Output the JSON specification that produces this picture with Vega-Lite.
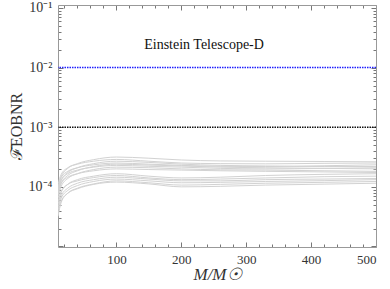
{
  "$schema": "https://vega.github.io/schema/vega-lite/v6.json",
  "width": 318,
  "height": 242,
  "autosize": "none",
  "padding": {"left": 58, "top": 5, "right": 14, "bottom": 42},
  "config": {"view": {"stroke": null}, "font": "Times New Roman"},
  "layer": [
    {
      "data": {"values": [
        {"c":1,"x":10,"y":0.89e-4},{"c":1,"x":15,"y":1.48e-4},{"c":1,"x":25,"y":2.04e-4},{"c":1,"x":40,"y":2.45e-4},{"c":1,"x":65,"y":2.86e-4},{"c":1,"x":100,"y":3.16e-4},{"c":1,"x":150,"y":3.02e-4},{"c":1,"x":200,"y":2.82e-4},{"c":1,"x":260,"y":2.72e-4},{"c":1,"x":330,"y":2.69e-4},{"c":1,"x":420,"y":2.66e-4},{"c":1,"x":500,"y":2.63e-4},
        {"c":2,"x":10,"y":1.12e-4},{"c":2,"x":15,"y":1.62e-4},{"c":2,"x":25,"y":2.09e-4},{"c":2,"x":40,"y":2.40e-4},{"c":2,"x":65,"y":2.69e-4},{"c":2,"x":100,"y":2.88e-4},{"c":2,"x":150,"y":2.69e-4},{"c":2,"x":200,"y":2.51e-4},{"c":2,"x":260,"y":2.45e-4},{"c":2,"x":330,"y":2.43e-4},{"c":2,"x":420,"y":2.48e-4},{"c":2,"x":500,"y":2.51e-4},
        {"c":3,"x":10,"y":0.79e-4},{"c":3,"x":15,"y":1.29e-4},{"c":3,"x":25,"y":1.74e-4},{"c":3,"x":40,"y":2.09e-4},{"c":3,"x":65,"y":2.45e-4},{"c":3,"x":100,"y":2.69e-4},{"c":3,"x":150,"y":2.57e-4},{"c":3,"x":200,"y":2.40e-4},{"c":3,"x":260,"y":2.29e-4},{"c":3,"x":330,"y":2.24e-4},{"c":3,"x":420,"y":2.19e-4},{"c":3,"x":500,"y":2.19e-4},
        {"c":4,"x":10,"y":1.00e-4},{"c":4,"x":15,"y":1.45e-4},{"c":4,"x":25,"y":1.82e-4},{"c":4,"x":40,"y":2.09e-4},{"c":4,"x":65,"y":2.34e-4},{"c":4,"x":100,"y":2.51e-4},{"c":4,"x":150,"y":2.40e-4},{"c":4,"x":200,"y":2.29e-4},{"c":4,"x":260,"y":2.21e-4},{"c":4,"x":330,"y":2.19e-4},{"c":4,"x":420,"y":2.26e-4},{"c":4,"x":500,"y":2.34e-4},
        {"c":5,"x":10,"y":0.71e-4},{"c":5,"x":15,"y":1.15e-4},{"c":5,"x":25,"y":1.55e-4},{"c":5,"x":40,"y":1.86e-4},{"c":5,"x":65,"y":2.19e-4},{"c":5,"x":100,"y":2.40e-4},{"c":5,"x":150,"y":2.32e-4},{"c":5,"x":200,"y":2.24e-4},{"c":5,"x":260,"y":2.14e-4},{"c":5,"x":330,"y":2.09e-4},{"c":5,"x":420,"y":2.04e-4},{"c":5,"x":500,"y":2.00e-4},
        {"c":6,"x":10,"y":0.89e-4},{"c":6,"x":15,"y":1.29e-4},{"c":6,"x":25,"y":1.66e-4},{"c":6,"x":40,"y":1.91e-4},{"c":6,"x":65,"y":2.14e-4},{"c":6,"x":100,"y":2.29e-4},{"c":6,"x":150,"y":2.21e-4},{"c":6,"x":200,"y":2.14e-4},{"c":6,"x":260,"y":2.04e-4},{"c":6,"x":330,"y":2.00e-4},{"c":6,"x":420,"y":2.04e-4},{"c":6,"x":500,"y":2.09e-4},
        {"c":7,"x":10,"y":0.63e-4},{"c":7,"x":15,"y":1.02e-4},{"c":7,"x":25,"y":1.38e-4},{"c":7,"x":40,"y":1.66e-4},{"c":7,"x":65,"y":1.95e-4},{"c":7,"x":100,"y":2.14e-4},{"c":7,"x":150,"y":2.09e-4},{"c":7,"x":200,"y":2.00e-4},{"c":7,"x":260,"y":1.93e-4},{"c":7,"x":330,"y":1.91e-4},{"c":7,"x":420,"y":1.86e-4},{"c":7,"x":500,"y":1.82e-4},
        {"c":8,"x":10,"y":0.79e-4},{"c":8,"x":15,"y":1.15e-4},{"c":8,"x":25,"y":1.45e-4},{"c":8,"x":40,"y":1.66e-4},{"c":8,"x":65,"y":1.86e-4},{"c":8,"x":100,"y":2.00e-4},{"c":8,"x":150,"y":1.95e-4},{"c":8,"x":200,"y":1.91e-4},{"c":8,"x":260,"y":1.86e-4},{"c":8,"x":330,"y":1.82e-4},{"c":8,"x":420,"y":1.78e-4},{"c":8,"x":500,"y":1.74e-4},
        {"c":9,"x":10,"y":0.50e-4},{"c":9,"x":15,"y":0.81e-4},{"c":9,"x":25,"y":1.10e-4},{"c":9,"x":40,"y":1.32e-4},{"c":9,"x":65,"y":1.51e-4},{"c":9,"x":100,"y":1.66e-4},{"c":9,"x":150,"y":1.51e-4},{"c":9,"x":200,"y":1.41e-4},{"c":9,"x":260,"y":1.45e-4},{"c":9,"x":330,"y":1.55e-4},{"c":9,"x":420,"y":1.62e-4},{"c":9,"x":500,"y":1.66e-4},
        {"c":10,"x":10,"y":0.56e-4},{"c":10,"x":15,"y":0.85e-4},{"c":10,"x":25,"y":1.10e-4},{"c":10,"x":40,"y":1.26e-4},{"c":10,"x":65,"y":1.43e-4},{"c":10,"x":100,"y":1.55e-4},{"c":10,"x":150,"y":1.41e-4},{"c":10,"x":200,"y":1.32e-4},{"c":10,"x":260,"y":1.35e-4},{"c":10,"x":330,"y":1.41e-4},{"c":10,"x":420,"y":1.48e-4},{"c":10,"x":500,"y":1.51e-4},
        {"c":11,"x":10,"y":0.45e-4},{"c":11,"x":15,"y":0.71e-4},{"c":11,"x":25,"y":0.95e-4},{"c":11,"x":40,"y":1.15e-4},{"c":11,"x":65,"y":1.32e-4},{"c":11,"x":100,"y":1.45e-4},{"c":11,"x":150,"y":1.35e-4},{"c":11,"x":200,"y":1.26e-4},{"c":11,"x":260,"y":1.26e-4},{"c":11,"x":330,"y":1.32e-4},{"c":11,"x":420,"y":1.35e-4},{"c":11,"x":500,"y":1.38e-4},
        {"c":12,"x":10,"y":0.40e-4},{"c":12,"x":15,"y":0.65e-4},{"c":12,"x":25,"y":0.87e-4},{"c":12,"x":40,"y":1.05e-4},{"c":12,"x":65,"y":1.23e-4},{"c":12,"x":100,"y":1.35e-4},{"c":12,"x":150,"y":1.26e-4},{"c":12,"x":200,"y":1.17e-4},{"c":12,"x":260,"y":1.19e-4},{"c":12,"x":330,"y":1.23e-4},{"c":12,"x":420,"y":1.27e-4},{"c":12,"x":500,"y":1.32e-4},
        {"c":13,"x":10,"y":0.32e-4},{"c":13,"x":15,"y":0.55e-4},{"c":13,"x":25,"y":0.78e-4},{"c":13,"x":40,"y":0.95e-4},{"c":13,"x":65,"y":1.12e-4},{"c":13,"x":100,"y":1.26e-4},{"c":13,"x":150,"y":1.17e-4},{"c":13,"x":200,"y":1.07e-4},{"c":13,"x":260,"y":1.10e-4},{"c":13,"x":330,"y":1.15e-4},{"c":13,"x":420,"y":1.19e-4},{"c":13,"x":500,"y":1.23e-4},
        {"c":14,"x":10,"y":0.35e-4},{"c":14,"x":15,"y":0.58e-4},{"c":14,"x":25,"y":0.78e-4},{"c":14,"x":40,"y":0.93e-4},{"c":14,"x":65,"y":1.10e-4},{"c":14,"x":100,"y":1.20e-4},{"c":14,"x":150,"y":1.12e-4},{"c":14,"x":200,"y":1.00e-4},{"c":14,"x":260,"y":1.02e-4},{"c":14,"x":330,"y":1.07e-4},{"c":14,"x":420,"y":1.11e-4},{"c":14,"x":500,"y":1.15e-4}
      ]},
      "mark": {"type": "line", "color": "#d2d2d2", "strokeWidth": 1, "interpolate": "monotone", "clip": true},
      "encoding": {
        "x": {"field": "x", "type": "quantitative",
          "scale": {"domain": [10, 500], "nice": false, "zero": false},
          "axis": {"orient": "bottom", "values": [20,40,60,80,100,120,140,160,180,200,220,240,260,280,300,320,340,360,380,400,420,440,460,480,500],
            "labelExpr": "datum.value % 100 == 0 ? datum.label : ''",
            "tickSize": {"condition": {"test": "datum.value % 100 == 0", "value": -5}, "value": -3},
            "tickColor": "#777", "domainColor": "#999", "grid": false,
            "labelFont": "Times New Roman", "labelFontSize": 13, "labelColor": "#333", "labelPadding": 11,
            "title": "M/M☉", "titleFont": "Times New Roman", "titleFontStyle": "italic", "titleFontWeight": "normal", "titleFontSize": 17, "titleColor": "#333", "titlePadding": 0}},
        "y": {"field": "y", "type": "quantitative",
          "scale": {"type": "log", "domain": [9.8e-6, 0.112], "nice": false},
          "axis": {"orient": "left",
            "values": [1e-5,2e-5,3e-5,4e-5,5e-5,6e-5,7e-5,8e-5,9e-5,1e-4,2e-4,3e-4,4e-4,5e-4,6e-4,7e-4,8e-4,9e-4,1e-3,2e-3,3e-3,4e-3,5e-3,6e-3,7e-3,8e-3,9e-3,1e-2,2e-2,3e-2,4e-2,5e-2,6e-2,7e-2,8e-2,9e-2,0.1],
            "labelExpr": "datum.value > 0.099 && datum.value < 0.101 ? '10⁻¹' : datum.value > 0.0099 && datum.value < 0.0101 ? '10⁻²' : datum.value > 0.00099 && datum.value < 0.00101 ? '10⁻³' : datum.value > 0.000099 && datum.value < 0.000101 ? '10⁻⁴' : ''",
            "tickSize": {"condition": {"test": "abs(log(datum.value)/LN10 - round(log(datum.value)/LN10)) < 0.001", "value": -5}, "value": -3},
            "tickColor": "#777", "domainColor": "#999", "grid": false,
            "labelFont": "Times New Roman", "labelFontSize": 14, "labelColor": "#333", "labelPadding": 11,
            "title": "ℱ̄EOBNR", "titleFont": "Times New Roman", "titleFontWeight": "normal", "titleFontSize": 16, "titleColor": "#333", "titlePadding": 4}},
        "detail": {"field": "c", "type": "nominal"}
      }
    },
    {
      "data": {"values": [{"y": 0.01, "k": "b"}, {"y": 0.001, "k": "k"}]},
      "mark": {"type": "rule", "strokeDash": [1.5, 1], "strokeWidth": 1.5},
      "encoding": {
        "y": {"field": "y", "type": "quantitative",
          "axis": {"orient": "right",
            "values": [1e-5,2e-5,3e-5,4e-5,5e-5,6e-5,7e-5,8e-5,9e-5,1e-4,2e-4,3e-4,4e-4,5e-4,6e-4,7e-4,8e-4,9e-4,1e-3,2e-3,3e-3,4e-3,5e-3,6e-3,7e-3,8e-3,9e-3,1e-2,2e-2,3e-2,4e-2,5e-2,6e-2,7e-2,8e-2,9e-2,0.1],
            "labels": false, "title": null, "grid": false,
            "tickSize": {"condition": {"test": "abs(log(datum.value)/LN10 - round(log(datum.value)/LN10)) < 0.001", "value": -5}, "value": -3},
            "tickColor": "#777", "domainColor": "#999"}},
        "color": {"field": "k", "type": "nominal", "scale": {"domain": ["b", "k"], "range": ["#1f1fff", "#111111"]}, "legend": null}
      }
    },
    {
      "data": {"values": [{"x": 235, "y": 0.024, "t": "Einstein Telescope-D"}]},
      "mark": {"type": "text", "font": "Times New Roman", "fontSize": 14, "color": "#111"},
      "encoding": {
        "x": {"field": "x", "type": "quantitative",
          "axis": {"orient": "top", "values": [20,40,60,80,100,120,140,160,180,200,220,240,260,280,300,320,340,360,380,400,420,440,460,480,500],
            "labels": false, "title": null, "grid": false,
            "tickSize": {"condition": {"test": "datum.value % 100 == 0", "value": -5}, "value": -3},
            "tickColor": "#777", "domainColor": "#999"}},
        "y": {"field": "y", "type": "quantitative", "axis": null},
        "text": {"field": "t"}
      }
    }
  ],
  "resolve": {"axis": {"x": "independent", "y": "independent"}}
}
